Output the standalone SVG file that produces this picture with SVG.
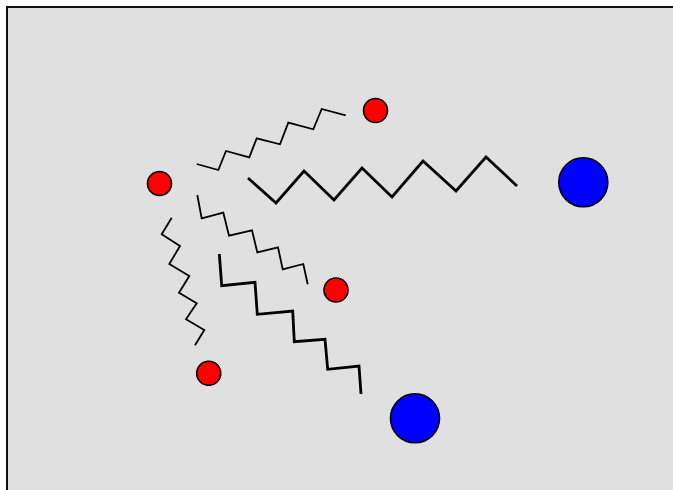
<svg xmlns="http://www.w3.org/2000/svg" width="673" height="490" viewBox="0 0 673 490">
<style>
.thin{fill:none;stroke:#000;stroke-width:1.8;stroke-linejoin:miter}
.thick{fill:none;stroke:#000;stroke-width:2.8;stroke-linejoin:miter}
.red{fill:#ff0000;stroke:#000;stroke-width:1.6}
.blue{fill:#0000ff;stroke:#000;stroke-width:1.6}
</style>
<rect x="0" y="0" width="673" height="490" fill="#ffffff"/>
<rect x="7" y="7" width="700" height="520" fill="#e0e0e0" stroke="#111" stroke-width="2"/>
<g id="connectors">
<polyline class="thin" points="196.7,164 218.3,170 226,151 249.3,157.3 256.7,138.3 280,144.3 288.3,122.7 313.3,129.3 321.7,109 345.7,115.3"/>
<polyline class="thick" points="248,178 276,203 304,171 334,200 362,168 392,197 423,161 456,191 486,157 517,186"/>
<polyline class="thin" points="197.3,195 201.7,218.3 223.3,212.7 229,235.7 252,230.3 257.3,252.3 278,247.3 282.7,269.3 303.3,264 307.7,284.3"/>
<polyline class="thin" points="171.7,217.7 161.7,234.3 180,246 169.3,264 189.3,276 179,292.7 196.7,303.3 186,319.3 204.3,330 195,345.3"/>
<polyline class="thick" points="219.3,254 221.7,285.7 255,282.3 257.3,314.3 292.7,311 294.3,341.7 325,339.3 327.7,369.3 359,366 361,394"/>
</g>
<g id="n1"><circle class="red" cx="159.5" cy="183.5" r="12"/></g>
<g id="n2"><circle class="red" cx="375.5" cy="110.5" r="12"/></g>
<g id="n3"><circle class="red" cx="336" cy="290" r="12"/></g>
<g id="n4"><circle class="red" cx="208.7" cy="373.3" r="12"/></g>
<g id="n5"><circle class="blue" cx="583.3" cy="182.3" r="24.5"/></g>
<g id="n6"><circle class="blue" cx="415" cy="418.3" r="24.5"/></g>
</svg>
